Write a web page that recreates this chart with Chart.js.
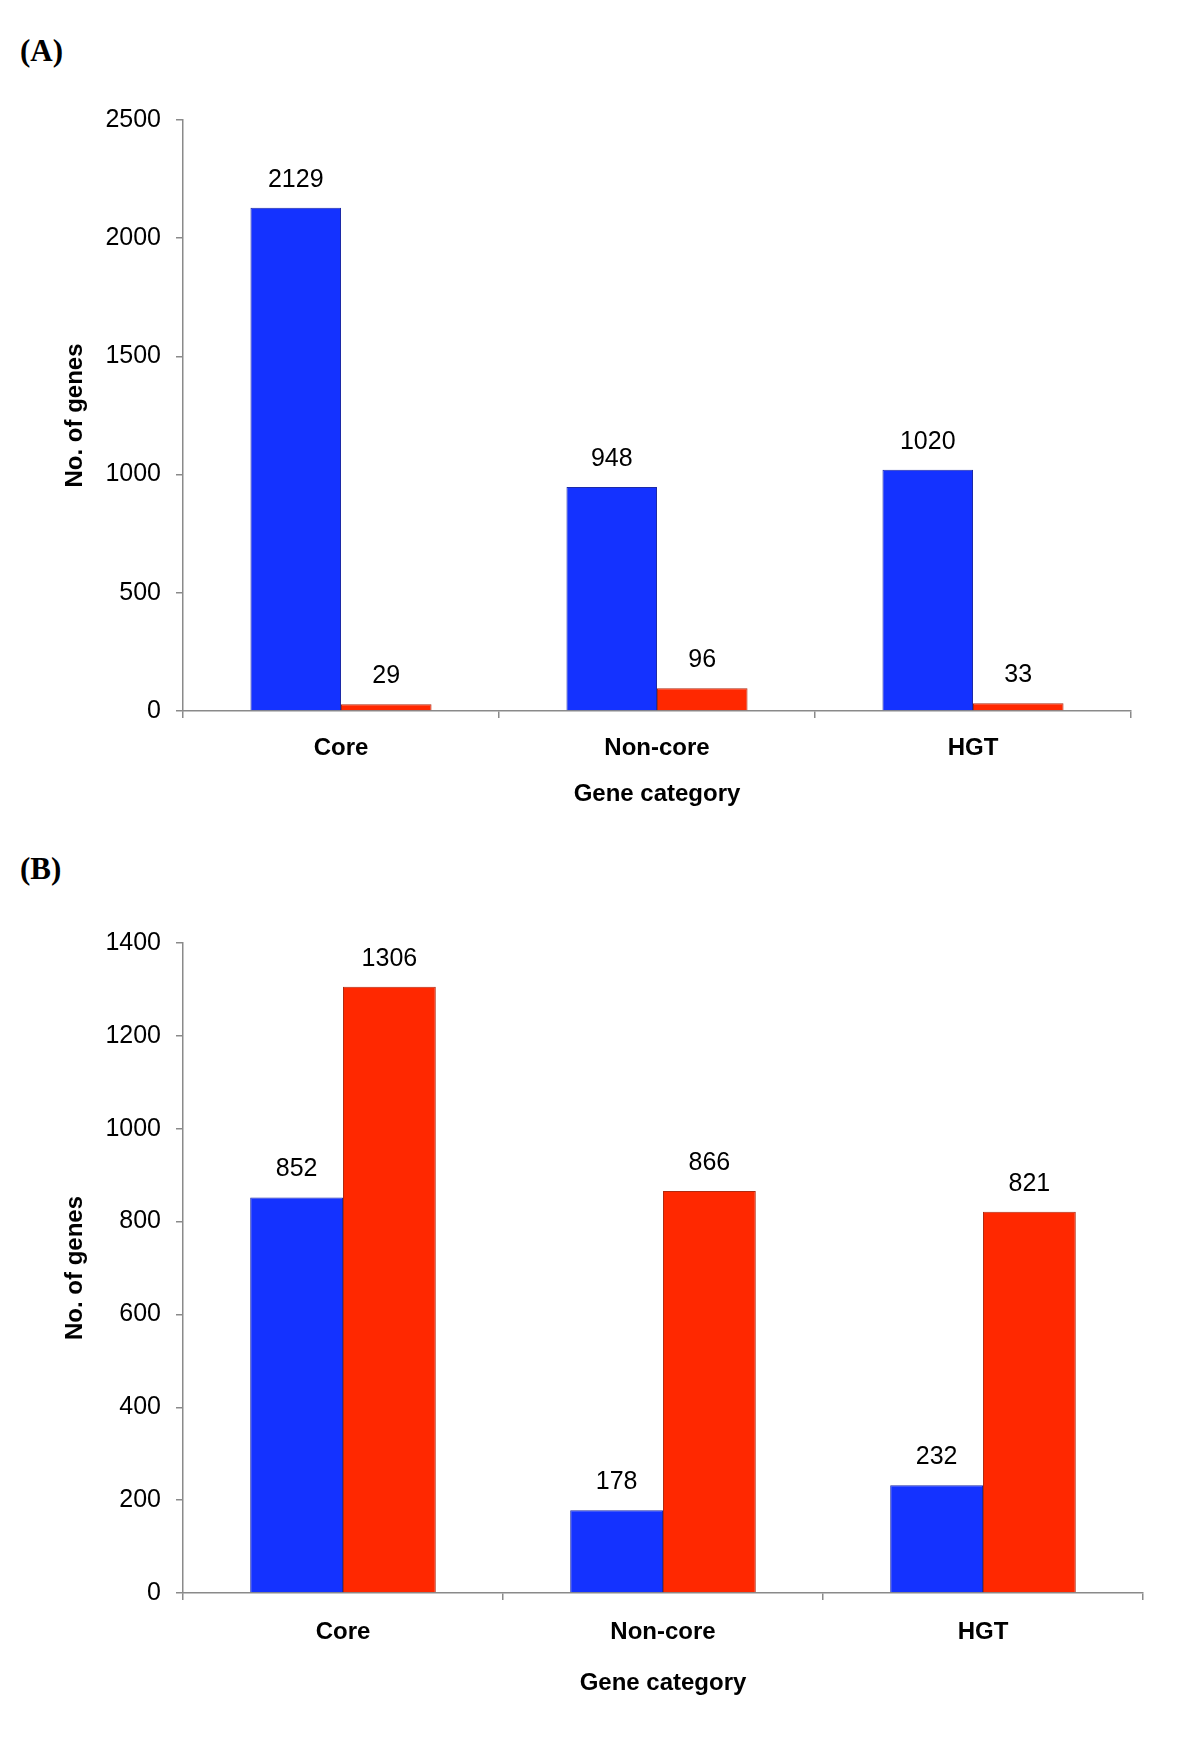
<!DOCTYPE html>
<html><head><meta charset="utf-8">
<script src="https://cdn.jsdelivr.net/npm/chart.js@4"></script>
<style>
html,body{margin:0;padding:0;background:#fff;width:1200px;height:1742px;overflow:hidden}
.panel{position:absolute;left:0;width:1200px}
.lbl{position:absolute;left:20px;font:bold 31px "Liberation Serif","Times New Roman",serif;line-height:1;color:#000}
</style></head><body>
<div class="lbl" style="top:35px">(A)</div>
<div class="panel" style="top:0;height:820px"><canvas id="cA" width="1200" height="820"></canvas></div>
<div class="lbl" style="top:853px">(B)</div>
<div class="panel" style="top:820px;height:922px"><canvas id="cB" width="1200" height="922"></canvas></div>
<script>
const categories = ["Core", "Non-core", "HGT"];
const seriesA_blue = [2129, 948, 1020];
const seriesA_red = [29, 96, 33];
const seriesB_blue = [852, 178, 232];
const seriesB_red = [1306, 866, 821];
const yTicksA = [0, 500, 1000, 1500, 2000, 2500];
const yTicksB = [0, 200, 400, 600, 800, 1000, 1200, 1400];

const SANS = '"Liberation Sans", Arial, Helvetica, sans-serif';
const AXIS = '#8a8a8a';

const valueLabels = {
  id: 'valueLabels',
  afterDatasetsDraw(chart) {
    const ctx = chart.ctx;
    ctx.save();
    ctx.font = '25px ' + SANS;
    ctx.fillStyle = '#000';
    ctx.textAlign = 'center';
    ctx.textBaseline = 'middle';
    chart.data.datasets.forEach((ds, i) => {
      chart.getDatasetMeta(i).data.forEach((bar, j) => {
        ctx.fillText(String(ds.data[j]), bar.x, bar.y - 28);
      });
    });
    ctx.restore();
  }
};

function makeChart(id, blue, red, ticks, lay) {
  const step = ticks[1] - ticks[0];
  new Chart(document.getElementById(id), {
    type: 'bar',
    data: {
      labels: categories,
      datasets: [
        { data: blue, backgroundColor: '#1432FF', borderColor: '#1c2aa8', borderWidth: 1,
          categoryPercentage: lay.cat, barPercentage: 1 },
        { data: red, backgroundColor: '#FF2800', borderColor: '#b02a10', borderWidth: 1,
          categoryPercentage: lay.cat, barPercentage: 1 }
      ]
    },
    options: {
      responsive: false,
      animation: false,
      layout: { padding: { left: 0, right: lay.right, top: lay.top, bottom: 0 } },
      plugins: { legend: { display: false }, tooltip: { enabled: false } },
      scales: {
        x: {
          afterFit: s => { s.height = lay.xh; },
          grid: { display: true, offset: true, drawOnChartArea: false, drawTicks: true, tickLength: 7, color: AXIS, lineWidth: 1.5 },
          border: { display: true, color: AXIS, width: 1.5 },
          ticks: { color: '#000', font: { family: SANS, size: 24, weight: 'bold' }, padding: lay.xpad },
          title: { display: true, text: 'Gene category', color: '#000', font: { family: SANS, size: 24, weight: 'bold' }, padding: { top: 0, bottom: lay.xtitle } }
        },
        y: {
          min: ticks[0], max: ticks[ticks.length - 1],
          afterFit: s => { s.width = 183; },
          afterBuildTicks: s => { s.ticks = ticks.map(v => ({ value: v })); },
          grid: { display: true, drawOnChartArea: false, drawTicks: true, tickLength: 7, color: AXIS, lineWidth: 1.5 },
          border: { display: true, color: AXIS, width: 1.5 },
          ticks: { stepSize: step, color: '#000', font: { family: SANS, size: 25 }, padding: 15,
                   callback: v => String(v) },
          title: { display: true, text: 'No. of genes', color: '#000', font: { family: SANS, size: 24, weight: 'bold' }, padding: { top: 61, bottom: 0 } }
        }
      }
    },
    plugins: [valueLabels]
  });
}

makeChart('cA', seriesA_blue, seriesA_red, yTicksA, { right: 69, top: 120, xh: 109, xpad: 16, xtitle: 11, cat: 0.573 });
makeChart('cB', seriesB_blue, seriesB_red, yTicksB, { right: 57, top: 123, xh: 149, xpad: 18, xtitle: 44, cat: 0.58 });
</script>
</body></html>
